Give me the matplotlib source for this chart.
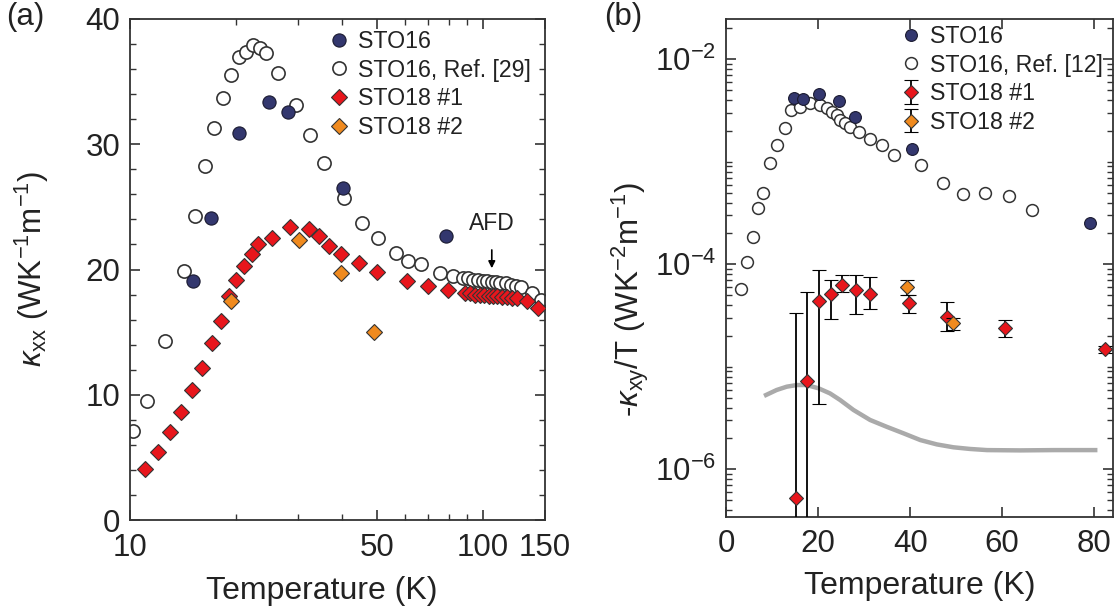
import matplotlib
matplotlib.use("Agg")
import matplotlib.pyplot as plt
from matplotlib.ticker import FixedLocator, NullFormatter, LogLocator, FuncFormatter
import numpy as np

plt.rcParams['font.family'] = ['Liberation Sans', 'DejaVu Sans']
plt.rcParams['mathtext.fontset'] = 'custom'
plt.rcParams['mathtext.rm'] = 'Liberation Sans'
plt.rcParams['mathtext.it'] = 'Liberation Sans:italic'
plt.rcParams['mathtext.bf'] = 'Liberation Sans:bold'

# ---- panel (a): kappa_xx vs T ----
sto16_T = [15.1, 17.0, 20.3, 24.7, 28.0, 40.2, 78.6]
sto16_k = [19.1, 24.1, 30.9, 33.4, 32.6, 26.5, 22.7]

ref29_T = [10.2, 11.15, 12.6, 14.2, 15.3, 16.3, 17.3, 18.3, 19.3, 20.3, 21.3, 22.3, 23.3,
           24.3, 26.3, 29.5, 32.4, 35.5, 40.4, 45.5, 50.5, 56.6, 61.5, 66.6, 75.6, 82.5,
           88, 91, 94, 97, 100, 103, 106, 109, 112, 116, 120, 124, 128, 138, 146]
ref29_k = [7.1, 9.5, 14.3, 19.9, 24.3, 28.3, 31.3, 33.7, 35.5, 37.0, 37.4, 37.9, 37.7,
           37.25, 35.7, 33.1, 30.7, 28.5, 25.7, 23.7, 22.5, 21.3, 20.7, 20.4, 19.7, 19.5,
           19.3, 19.3, 19.2, 19.2, 19.1, 19.1, 19.0, 19.0, 18.9, 18.9, 18.8, 18.7, 18.6, 18.1, 17.6]

sto18_1_T = [11.0, 12.0, 13.0, 13.95, 15.0, 16.0, 17.1, 18.1, 19.1, 20.0, 21.0, 22.1, 23.1,
             25.2, 28.4, 32.2, 34.3, 36.7, 39.5, 44.6, 50.0, 61.1, 70.0, 79.8,
             89, 92, 95, 98, 101, 104, 107, 110, 113, 117, 121, 125, 133, 143]
sto18_1_k = [4.05, 5.4, 7.0, 8.6, 10.4, 12.1, 14.1, 15.9, 17.9, 19.2, 20.3, 21.25, 22.05,
             22.5, 23.4, 23.2, 22.7, 21.9, 21.2, 20.5, 19.8, 19.1, 18.7, 18.4,
             18.1, 18.1, 18.0, 18.0, 18.0, 17.9, 17.9, 17.9, 17.8, 17.8, 17.7, 17.7, 17.5, 16.9]

sto18_2_T = [19.3, 30.2, 39.5, 49.1]
sto18_2_k = [17.5, 22.35, 19.7, 15.0]

# ---- panel (b): -kappa_xy/T vs T ----
sto16b_T = [14.8, 16.8, 20.1, 24.6, 28.0, 40.4, 79.0]
sto16b_y = [4.17e-3, 4.07e-3, 4.56e-3, 3.92e-3, 2.75e-3, 1.33e-3, 2.55e-4]

ref12_T = [3.3, 4.5, 5.8, 7.0, 8.1, 9.6, 11.0, 12.8, 14.1, 16.1, 18.3, 20.4, 21.9, 23.0,
           24.1, 24.8, 25.9, 27.0, 28.8, 31.3, 33.8, 36.4, 42.4, 47.1, 51.4, 56.3, 61.4, 66.4]
ref12_y = [5.7e-5, 1.05e-4, 1.83e-4, 3.56e-4, 5.0e-4, 9.7e-4, 1.46e-3, 2.12e-3, 3.2e-3,
           3.45e-3, 3.72e-3, 3.58e-3, 3.33e-3, 3.08e-3, 2.86e-3, 2.56e-3, 2.37e-3, 2.17e-3,
           1.97e-3, 1.68e-3, 1.47e-3, 1.16e-3, 9.2e-4, 6.17e-4, 4.8e-4, 5.0e-4, 4.67e-4, 3.39e-4]

sto18b_1_T = [15.1, 17.7, 20.1, 22.8, 25.1, 28.3, 31.3, 39.7, 48.0, 60.7, 82.4]
sto18b_1_y = [5.3e-7, 7.3e-6, 4.4e-5, 5.13e-5, 6.28e-5, 5.6e-5, 5.13e-5, 4.2e-5, 3.08e-5, 2.41e-5, 1.48e-5]
sto18b_1_lo = [1e-9, 1e-9, 4.3e-6, 2.9e-5, 5.4e-5, 3.25e-5, 3.7e-5, 3.37e-5, 2.24e-5, 1.94e-5, 1.36e-5]
sto18b_1_hi = [3.37e-5, 5.33e-5, 8.8e-5, 7.1e-5, 7.9e-5, 7.9e-5, 7.6e-5, 5.0e-5, 4.3e-5, 2.86e-5, 1.6e-5]

sto18b_2_T = [39.4, 49.3]
sto18b_2_y = [6.04e-5, 2.65e-5]
sto18b_2_lo = [5.0e-5, 2.3e-5]
sto18b_2_hi = [7.1e-5, 3.0e-5]

curve_T = [8.7, 11.0, 13.2, 15.4, 17.5, 20.1, 22.6, 24.8, 27.7, 31.3, 34.9, 38.5, 42.2,
           45.8, 49.4, 53.0, 56.7, 63.9, 71.2, 80.2]
curve_y = [5.31e-6, 5.94e-6, 6.4e-6, 6.64e-6, 6.64e-6, 6.17e-6, 5.5e-6, 4.74e-6, 3.79e-6,
           3.03e-6, 2.6e-6, 2.25e-6, 1.93e-6, 1.75e-6, 1.64e-6, 1.58e-6, 1.54e-6, 1.53e-6,
           1.54e-6, 1.54e-6]

navy = '#33376e'
red = '#e8161c'
orange = '#f08a1e'
txt = '#222222'

fig = plt.figure(figsize=(11.18, 6.14), dpi=100)
axa = fig.add_axes([130 / 1118, 1 - 520 / 614, 415 / 1118, 501 / 614])
axb = fig.add_axes([726 / 1118, 1 - 516.7 / 614, 386.7 / 1118, 497.7 / 614])

ms_a = 9.5
ms_b = 8.5

axa.plot(ref29_T, ref29_k, 'o', ms=ms_a, mfc='white', mec='#333333', mew=1.2, ls='none',
         label='STO16, Ref. [29]', zorder=2)
axa.plot(sto16_T, sto16_k, 'o', ms=ms_a, mfc=navy, mec='#1a1a30', mew=0.8, ls='none',
         label='STO16', zorder=3)
axa.plot(sto18_1_T, sto18_1_k, 'D', ms=ms_a * 0.85, mfc=red, mec='#333333', mew=0.8, ls='none',
         label='STO18 #1', zorder=4)
axa.plot(sto18_2_T, sto18_2_k, 'D', ms=ms_a * 0.85, mfc=orange, mec='#333333', mew=0.8, ls='none',
         label='STO18 #2', zorder=5)

axa.set_xscale('log')
axa.set_xlim(10, 150)
axa.set_ylim(0, 40)
axa.xaxis.set_major_locator(FixedLocator([10, 50, 100, 150]))
axa.xaxis.set_major_formatter(FuncFormatter(lambda v, p: '%d' % round(v)))
axa.xaxis.set_minor_locator(FixedLocator([20, 30, 40, 60, 70, 80, 90]))
axa.xaxis.set_minor_formatter(NullFormatter())
axa.yaxis.set_major_locator(FixedLocator([0, 10, 20, 30, 40]))
axa.yaxis.set_minor_locator(FixedLocator(np.arange(0, 41, 2)))

axa.annotate('AFD', xy=(106, 20.1), xytext=(106, 23.7), ha='center', va='center',
             fontsize=16.5, color=txt,
             arrowprops=dict(arrowstyle='-|>', color='black', lw=1.2, shrinkA=9, shrinkB=0,
                             mutation_scale=10))

h, l = axa.get_legend_handles_labels()
order = [1, 0, 2, 3]
axa.legend([h[i] for i in order], [l[i] for i in order], loc='upper left',
           bbox_to_anchor=(330 / 1118, 1 - 30 / 614), bbox_transform=fig.transFigure,
           frameon=False, fontsize=16.7, borderpad=0, borderaxespad=0, handlelength=0.8,
           handletextpad=0.42, labelspacing=0.24, labelcolor=txt)

# panel (b)
axb.plot(curve_T, curve_y, '-', color='#aaaaaa', lw=3.2, zorder=1)
axb.plot(ref12_T, ref12_y, 'o', ms=ms_b, mfc='white', mec='#333333', mew=1.1, ls='none',
         label='STO16, Ref. [12]', zorder=2)
axb.plot(sto16b_T, sto16b_y, 'o', ms=ms_b, mfc=navy, mec='#1a1a30', mew=0.8, ls='none',
         label='STO16', zorder=3)
y1 = np.array(sto18b_1_y)
axb.errorbar(sto18b_1_T, sto18b_1_y,
             yerr=[y1 - np.array(sto18b_1_lo), np.array(sto18b_1_hi) - y1],
             fmt='D', ms=ms_b * 0.85, mfc=red, mec='#333333', mew=0.8, ecolor='black',
             elinewidth=1.3, capsize=5, capthick=1.3, label='STO18 #1', zorder=4)
y2 = np.array(sto18b_2_y)
axb.errorbar(sto18b_2_T, sto18b_2_y,
             yerr=[y2 - np.array(sto18b_2_lo), np.array(sto18b_2_hi) - y2],
             fmt='D', ms=ms_b * 0.85, mfc=orange, mec='#333333', mew=0.8, ecolor='black',
             elinewidth=1.3, capsize=5, capthick=1.3, label='STO18 #2', zorder=5)

axb.set_yscale('log')
axb.set_xlim(0, 84)
axb.set_ylim(3.45e-7, 2.47e-2)
axb.xaxis.set_major_locator(FixedLocator([0, 20, 40, 60, 80]))
axb.yaxis.set_major_locator(FixedLocator([1e-6, 1e-4, 1e-2]))
axb.yaxis.set_major_formatter(FuncFormatter(lambda v, p: r'$10^{%d}$' % round(np.log10(v))))
axb.yaxis.set_minor_locator(LogLocator(base=10, subs=np.arange(1, 10), numticks=20))
axb.yaxis.set_minor_formatter(NullFormatter())

h, l = axb.get_legend_handles_labels()
hb = [h[1], h[0], h[2], h[3]]
lb = [l[1], l[0], l[2], l[3]]
axb.legend(hb, lb, loc='upper left',
           bbox_to_anchor=(902 / 1118, 1 - 25 / 614), bbox_transform=fig.transFigure,
           frameon=False, fontsize=16.7, borderpad=0, borderaxespad=0, handlelength=0.8,
           handletextpad=0.4, labelspacing=0.24, labelcolor=txt)

for ax in (axa, axb):
    for s in ax.spines.values():
        s.set_linewidth(1.3)
        s.set_color('#333333')
    ax.tick_params(which='both', direction='in', top=True, right=True, colors='#333333',
                   labelcolor=txt, labelsize=22.5)
    ax.tick_params(which='major', length=7, width=1.2)
    ax.tick_params(which='minor', length=4, width=1.0)
    ax.tick_params(axis='x', pad=9)
    ax.tick_params(axis='y', pad=7)

axa.set_xlabel('Temperature (K)', fontsize=23, color=txt)
axa.xaxis.set_label_coords(0.462, -0.112)
axb.set_xlabel('Temperature (K)', fontsize=23, color=txt)
axb.xaxis.set_label_coords(0.5, -0.11)
axa.xaxis.label.set_va('top')
axb.xaxis.label.set_va('top')

fig.text(32 / 1118, 1 - 269 / 614, r'$\kappa_{\rm xx}$ (WK$^{-1}$m$^{-1}$)', rotation=90,
         ha='center', va='center', fontsize=22.5, color=txt)
fig.text(630 / 1118, 1 - 300 / 614, r'-$\kappa_{\rm xy}$/T (WK$^{-2}$m$^{-1}$)', rotation=90,
         ha='center', va='center', fontsize=22.5, color=txt)

fig.text(6 / 1118, 1 - 2 / 614, '(a)', ha='left', va='top', fontsize=22.5, color=txt)
fig.text(604 / 1118, 1 - 2 / 614, '(b)', ha='left', va='top', fontsize=22.5, color=txt)

fig.savefig('out.png', dpi=100)
